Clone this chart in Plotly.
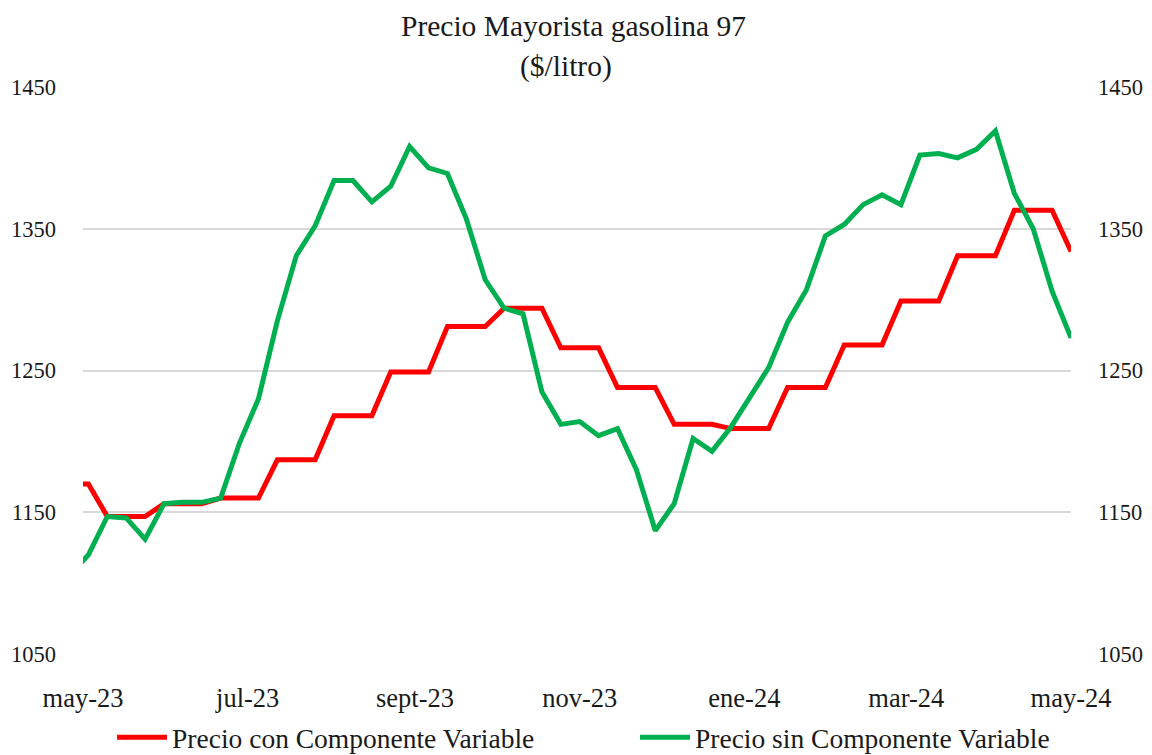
import pandas as pd
import plotly.graph_objects as go

# Weekly observations (Wednesdays), first one falls just before the visible range
dates = pd.date_range("2023-04-26", periods=54, freq="7D")

precio_con_cv = [1170, 1170, 1147, 1147, 1147, 1156, 1156, 1156, 1160, 1160,
                 1160, 1187, 1187, 1187, 1218, 1218, 1218, 1249, 1249, 1249,
                 1281, 1281, 1281, 1294, 1294, 1294, 1266, 1266, 1266, 1238,
                 1238, 1238, 1212, 1212, 1212, 1209, 1209, 1209, 1238, 1238,
                 1238, 1268, 1268, 1268, 1299, 1299, 1299, 1331, 1331, 1331,
                 1363, 1363, 1363, 1334]

precio_sin_cv = [1105, 1120, 1147, 1146, 1131, 1156, 1157, 1157, 1160, 1199,
                 1230, 1285, 1331, 1352, 1384, 1384, 1369, 1380, 1408, 1393,
                 1389, 1357, 1314, 1294, 1290, 1235, 1212, 1214, 1204, 1209,
                 1180, 1137, 1156, 1202, 1193, 1210, 1231, 1252, 1284, 1307,
                 1345, 1353, 1367, 1374, 1367, 1402, 1403, 1400, 1406, 1419,
                 1375, 1350, 1306, 1273]

x_tickvals = ["2023-05-01", "2023-07-01", "2023-09-01", "2023-11-01",
              "2024-01-01", "2024-03-01", "2024-05-01"]
x_ticktext = ["may-23", "jul-23", "sept-23", "nov-23", "ene-24", "mar-24", "may-24"]
y_ticks = [1050, 1150, 1250, 1350, 1450]

FONT = "Liberation Serif"
TXT = "#1a1a1a"

fig = go.Figure()
fig.add_trace(go.Scatter(x=dates, y=precio_con_cv, mode="lines",
                         name="Precio con Componente Variable",
                         line=dict(color="#ff0000", width=5), legend="legend"))
fig.add_trace(go.Scatter(x=dates, y=precio_sin_cv, mode="lines",
                         name="Precio sin Componente Variable",
                         line=dict(color="#00b050", width=5), yaxis="y2",
                         legend="legend2"))

legend_style = dict(orientation="h", xanchor="left", y=-0.147,
                    yanchor="middle", font=dict(size=27.5, family=FONT),
                    itemwidth=50, bgcolor="rgba(0,0,0,0)")

# page body has an 8px default margin, so the figure is sized to fit the window
fig.update_layout(
    width=1144, height=747,
    margin=dict(l=75, r=81, t=79, b=101, autoexpand=False),
    paper_bgcolor="white", plot_bgcolor="white",
    font=dict(family=FONT, color=TXT),
    xaxis=dict(range=["2023-05-01", "2024-05-01"], tickvals=x_tickvals,
               ticktext=x_ticktext, showgrid=False, zeroline=False,
               showline=False, ticks="", tickfont=dict(size=26.5, family=FONT),
               ticklabelstandoff=25, automargin=False),
    yaxis=dict(range=[1050, 1450], tickvals=y_ticks, showgrid=True,
               gridcolor="#d9d9d9", gridwidth=1.6, zeroline=False,
               showline=False, ticks="", tickfont=dict(size=22.5, family=FONT),
               ticklabelstandoff=26, automargin=False),
    yaxis2=dict(range=[1050, 1450], tickvals=y_ticks, overlaying="y",
                side="right", showgrid=False, zeroline=False, showline=False,
                ticks="", tickfont=dict(size=22.5, family=FONT),
                ticklabelstandoff=26, automargin=False),
    legend=dict(x=0.0294, **legend_style),
    legend2=dict(x=0.5587, **legend_style),
    showlegend=True,
    annotations=[
        dict(text="Precio Mayorista gasolina 97", xref="paper", yref="paper",
             x=0.4967, y=1.1076, xanchor="center", yanchor="middle",
             showarrow=False, font=dict(size=29.5, family=FONT, color=TXT)),
        dict(text="($/litro)", xref="paper", yref="paper",
             x=0.489, y=1.0353, xanchor="center", yanchor="middle",
             showarrow=False, font=dict(size=29.5, family=FONT, color=TXT)),
    ],
)

fig.write_html("out.html")
